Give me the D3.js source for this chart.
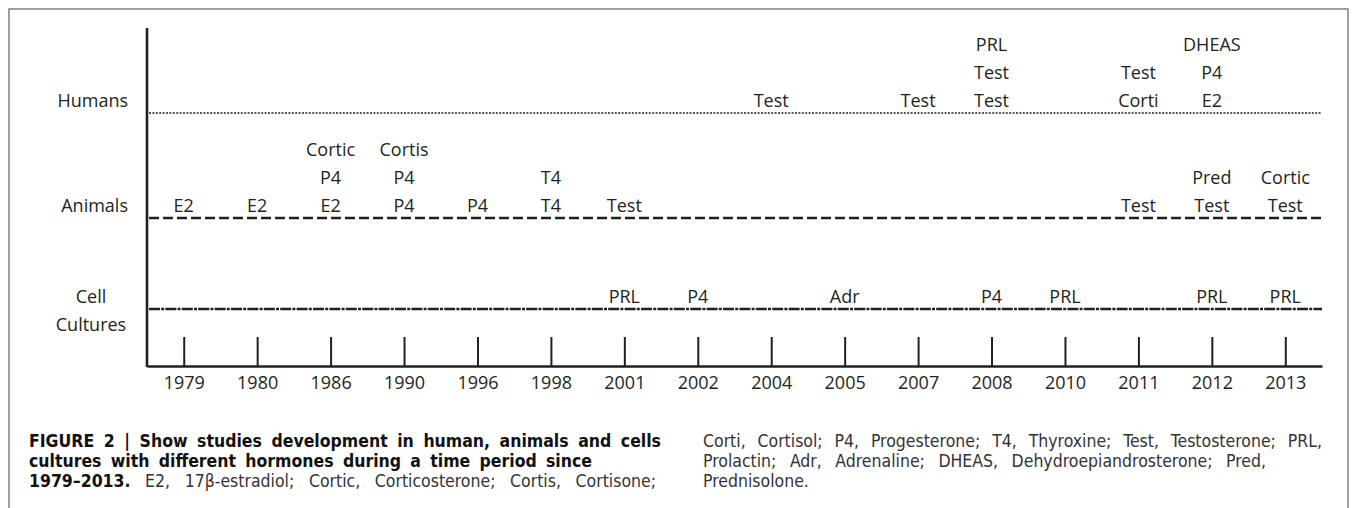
<!DOCTYPE html>
<html lang="en"><head>
<meta charset="utf-8">
<title>Hormone studies 1979-2013</title>
<script src="https://cdn.jsdelivr.net/npm/d3@7"></script>
<style>
body { margin: 0; background: #fff; }
.lbl { font-family: "Open Sans", "Noto Sans", sans-serif; font-size: 18px; fill: #231f20; }
.cap { font-family: "Liberation Sans Narrow", "DejaVu Sans Condensed", "Liberation Sans", sans-serif; font-size: 17.5px; }
</style>
</head>
<body>
<script>
// data
var years = ["1979","1980","1986","1990","1996","1998","2001","2002","2004","2005","2007","2008","2010","2011","2012","2013"];
var rows = ["Humans","Animals","Cell Cultures"];
// labels listed top to bottom
var humans = [["2004",["Test"]],["2007",["Test"]],["2008",["PRL","Test","Test"]],["2011",["Test","Corti"]],["2012",["DHEAS","P4","E2"]]];
var animals = [["1979",["E2"]],["1980",["E2"]],["1986",["Cortic","P4","E2"]],["1990",["Cortis","P4","P4"]],["1996",["P4"]],["1998",["T4","T4"]],["2001",["Test"]],["2011",["Test"]],["2012",["Pred","Test"]],["2013",["Cortic","Test"]]];
var cells = [["2001",["PRL"]],["2002",["P4"]],["2005",["Adr"]],["2008",["P4"]],["2010",["PRL"]],["2012",["PRL"]],["2013",["PRL"]]];

var captionLeft = [
  {words:[["FIGURE 2 | Show studies development in human, animals and cells",1]]},
  {words:[["cultures with different hormones during a time period since",1]]},
  {words:[["1979–2013.",1],["E2, 17β-estradiol; Cortic, Corticosterone; Cortis, Cortisone;",0]]}
];
var captionRight = [
  {words:[["Corti, Cortisol; P4, Progesterone; T4, Thyroxine; Test, Testosterone; PRL,",0]]},
  {words:[["Prolactin; Adr, Adrenaline; DHEAS, Dehydroepiandrosterone; Pred,",0]]},
  {words:[["Prednisolone.",0]]}
];

var width = 1355, height = 508;
var plot = {left:147, right:1322, top:28, bottom:366};
var ink = "#231f20";

var svg = d3.select("body").append("svg").attr("width", width).attr("height", height);

// frame
svg.append("rect").attr("x", 9).attr("y", 9).attr("width", 1339).attr("height", 600)
  .attr("fill", "none").attr("stroke", "#808080").attr("stroke-width", 1.5);

var x = d3.scalePoint().domain(years).range([plot.left, plot.right]).padding(0.5);
var y = d3.scaleOrdinal().domain(rows).range([113, 218, 309]);
var lineGap = 28;

var rowStyle = {
  "Humans": {dash:"2,1.4", w:1.6},
  "Animals": {dash:"10,4", w:2.6},
  "Cell Cultures": {dash:"11,1.2,3,1.2", w:2.4}
};

// row lines
svg.selectAll("line.row").data(rows).enter().append("line").attr("class", "row")
  .attr("x1", plot.left + 2).attr("x2", plot.right)
  .attr("y1", d => y(d)).attr("y2", d => y(d))
  .attr("stroke", ink).attr("stroke-width", d => rowStyle[d].w)
  .attr("stroke-dasharray", d => rowStyle[d].dash);

// x axis with ticks pointing up
var xAxis = d3.axisBottom(x).tickSizeInner(-29).tickSizeOuter(0).tickPadding(10);
var gX = svg.append("g").attr("transform", "translate(0," + plot.bottom + ")").call(xAxis);
gX.select(".domain").attr("stroke", ink).attr("stroke-width", 2.6);
gX.selectAll(".tick line").attr("stroke", ink).attr("stroke-width", 2);
gX.selectAll(".tick text").attr("class", "lbl").attr("font-size", null).attr("font-family", null).attr("fill", null);

// y axis line
svg.append("line").attr("x1", plot.left).attr("x2", plot.left).attr("y1", plot.top).attr("y2", plot.bottom + 1)
  .attr("stroke", ink).attr("stroke-width", 2.6);

// row labels
svg.append("text").attr("class", "lbl").attr("x", 128).attr("y", y("Humans") - 6).attr("text-anchor", "end").text("Humans");
svg.append("text").attr("class", "lbl").attr("x", 128).attr("y", y("Animals") - 6).attr("text-anchor", "end").text("Animals");
var cellLbl = svg.append("text").attr("class", "lbl").attr("text-anchor", "middle");
cellLbl.append("tspan").attr("x", 91).attr("y", y("Cell Cultures") - 6).text("Cell");
cellLbl.append("tspan").attr("x", 91).attr("y", y("Cell Cultures") + 22).text("Cultures");

// event labels
function drawEvents(list, row) {
  var g = svg.append("g");
  list.forEach(function(ev) {
    var n = ev[1].length;
    g.selectAll(null).data(ev[1]).enter().append("text").attr("class", "lbl")
      .attr("text-anchor", "middle")
      .attr("x", x(ev[0]))
      .attr("y", (d, i) => y(row) - 6 - (n - 1 - i) * lineGap)
      .text(d => d);
  });
}
drawEvents(humans, "Humans");
drawEvents(animals, "Animals");
drawEvents(cells, "Cell Cultures");

// caption, justified word by word
function caption(lines, x0, ends) {
  lines.forEach(function(line, li) {
    var by = 447 + li * 20;
    var words = [];
    line.words.forEach(function(seg) {
      seg[0].split(" ").forEach(function(w) { words.push({t:w, b:seg[1]}); });
    });
    var nodes = words.map(function(w) {
      return svg.append("text").attr("class", "cap").attr("y", by)
        .attr("font-weight", w.b ? "bold" : "normal")
        .attr("fill", w.b ? "#111" : "#333").text(w.t);
    });
    var widths = nodes.map(n => n.node().getComputedTextLength());
    var total = d3.sum(widths);
    var gap = ends[li] ? (ends[li] - x0 - total) / Math.max(1, words.length - 1) : 5;
    var cx = x0;
    nodes.forEach(function(n, i) { n.attr("x", cx); cx += widths[i] + gap; });
  });
}
caption(captionLeft, 29, [661, 592, 656]);
caption(captionRight, 703, [1322, 1266, 0]);
</script>
</body>
</html>
